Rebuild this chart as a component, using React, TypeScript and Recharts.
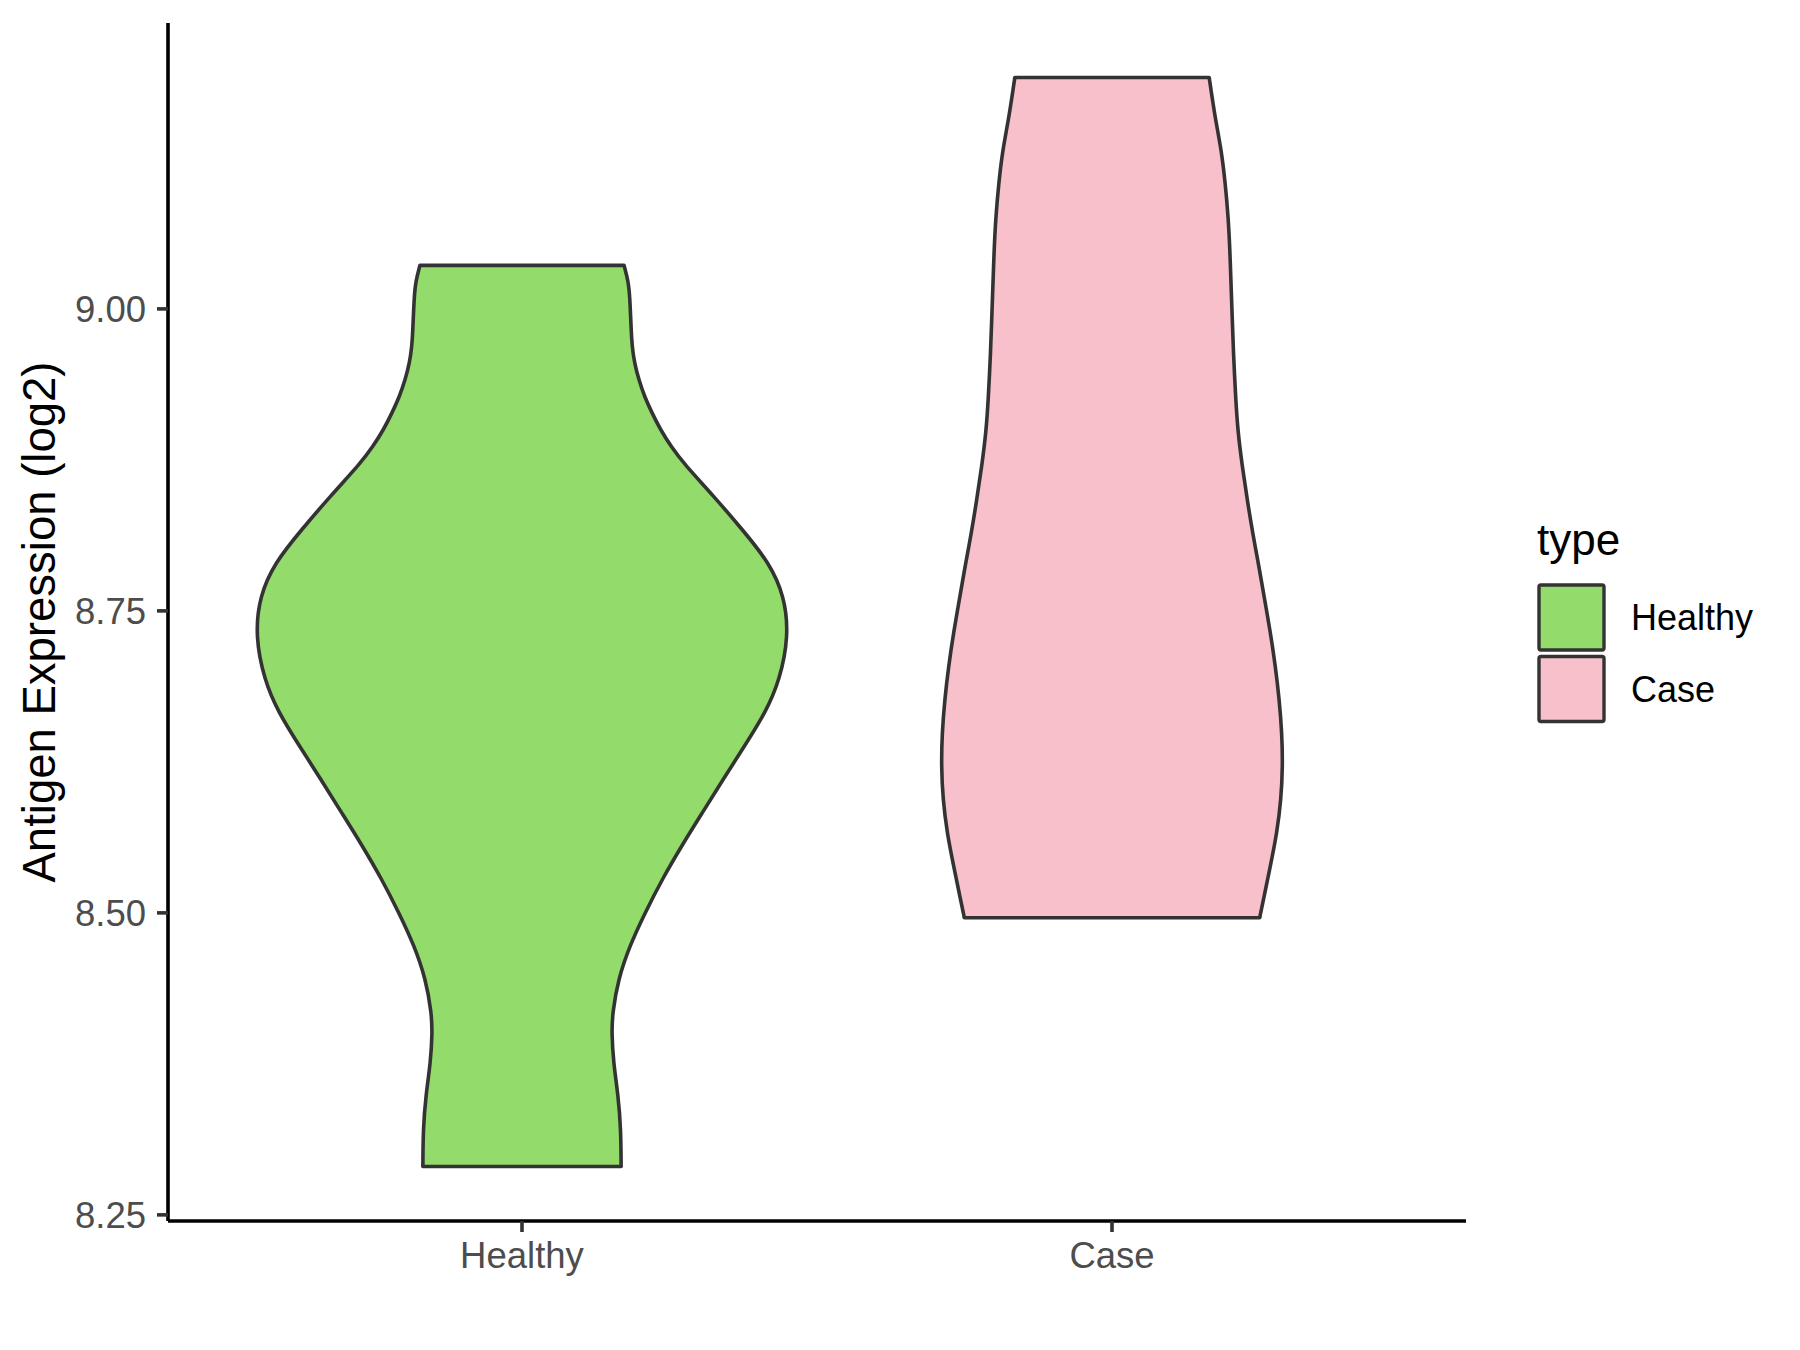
import React from "react";
import { ComposedChart, Area, XAxis, YAxis, ReferenceLine } from "recharts";

const categories = ["Healthy", "Case"];
const fills = ["#93DB6B", "#F7C0CB"];
const outline = "#333333";
const font = "'Liberation Sans', Arial, sans-serif";

// violin outlines: expression value and half-width (x units)
const healthyY = [
  8.29, 8.321, 8.349, 8.376, 8.401, 8.417, 8.445, 8.473, 8.5, 8.528, 8.555, 8.583, 8.611, 8.638,
  8.666, 8.693, 8.729, 8.762, 8.79, 8.817, 8.845, 8.872, 8.886, 8.9, 8.9137, 8.9275, 8.9413, 8.955,
  8.969, 8.983, 9.011, 9.023, 9.036,
];
const healthyHalfWidth = [
  0.168, 0.1676, 0.163, 0.155, 0.152, 0.1534, 0.163, 0.1827, 0.2085, 0.2378, 0.27, 0.3058, 0.3415, 0.377,
  0.413, 0.437, 0.452, 0.445, 0.419, 0.374, 0.325, 0.274, 0.2527, 0.2347, 0.2205, 0.2076, 0.198, 0.1907,
  0.1866, 0.185, 0.1827, 0.18, 0.173,
];
const caseY = [
  8.496, 8.511, 8.539, 8.566, 8.594, 8.6215, 8.649, 8.677, 8.704, 8.732, 8.759, 8.787, 8.8141, 8.8418,
  8.8694, 8.897, 8.9247, 8.966, 8.994, 9.021, 9.049, 9.076, 9.104, 9.1315, 9.159, 9.1916,
];
const caseHalfWidth = [
  0.2503, 0.2568, 0.2685, 0.2795, 0.2866, 0.2893, 0.288, 0.2834, 0.277, 0.2685, 0.2588, 0.249, 0.2385, 0.2293,
  0.2209, 0.2136, 0.2097, 0.2056, 0.2037, 0.2017, 0.1998, 0.197, 0.192, 0.1854, 0.1744, 0.1647,
];

const yTicks = [8.25, 8.5, 8.75, 9.0];

const violins = [
  { key: "healthy", pos: 1, ys: healthyY, hw: healthyHalfWidth },
  { key: "case", pos: 2, ys: caseY, hw: caseHalfWidth },
];

const allY = Array.from(new Set([...healthyY, ...caseY])).sort((a, b) => a - b);
const rows = allY.map((y) => {
  const row: Record<string, any> = { y };
  violins.forEach((v) => {
    const i = v.ys.indexOf(y);
    row[v.key] = i >= 0 ? [v.pos - v.hw[i], v.pos + v.hw[i]] : [null, null];
  });
  return row;
});

// ggplot-style 5% expansion of the data range
const yMin = Math.min(...allY);
const yMax = Math.max(...allY);
const pad = (yMax - yMin) * 0.05;

const YTitle = (props: any) => {
  const vb = props.viewBox || { x: 0, y: 23, width: 168, height: 1198 };
  const cx = vb.x + 39;
  const cy = vb.y + vb.height / 2;
  return (
    <text
      x={cx}
      y={cy}
      dy="0.355em"
      transform={`rotate(-90, ${cx}, ${cy})`}
      textAnchor="middle"
      fill="#000"
      fontSize={45.5}
      fontFamily={font}
    >
      Antigen Expression (log2)
    </text>
  );
};

function LegendBox() {
  return (
    <svg width={260} height={260} style={{ position: "absolute", left: 1530, top: 500 }}>
      <text x={7} y={55} fontSize={44} fontFamily={font} fill="#000">
        type
      </text>
      {categories.map((c, i) => (
        <g key={c}>
          <rect x={9} y={85 + i * 71.5} width={65} height={65} fill={fills[i]} stroke={outline} strokeWidth={3.4} rx={2} />
          <text x={101} y={130 + i * 71.5} fontSize={36} fontFamily={font} fill="#000">
            {c}
          </text>
        </g>
      ))}
    </svg>
  );
}

export default function App() {
  return (
    <div style={{ position: "absolute", left: 0, top: 0, width: 1800, height: 1350, background: "#fff" }}>
      <ComposedChart
        width={1800}
        height={1350}
        data={rows}
        layout="vertical"
        margin={{ top: 23, right: 334, bottom: 29, left: 0 }}
      >
        <XAxis
          type="number"
          domain={[0.4, 2.6]}
          ticks={[1, 2]}
          allowDataOverflow
          tickFormatter={(v) => categories[v - 1]}
          height={100}
          tickSize={11}
          tickMargin={10}
          axisLine={{ stroke: "#000", strokeWidth: 3.6 }}
          tickLine={{ stroke: outline, strokeWidth: 3.6 }}
          tick={{ fill: "#4D4D4D", fontSize: 36.5, fontFamily: font }}
        />
        <YAxis
          type="number"
          dataKey="y"
          reversed
          domain={[yMin - pad, yMax + pad]}
          ticks={yTicks}
          allowDataOverflow
          tickFormatter={(v) => v.toFixed(2)}
          width={168}
          tickSize={11}
          tickMargin={11}
          axisLine={{ stroke: "#000", strokeWidth: 3.6 }}
          tickLine={{ stroke: outline, strokeWidth: 3.6 }}
          tick={{ fill: "#4D4D4D", fontSize: 36.5, fontFamily: font }}
          label={<YTitle />}
        />
        {violins.map((v, i) => (
          <Area
            key={v.key}
            dataKey={v.key}
            type="basis"
            connectNulls
            fill={fills[i]}
            fillOpacity={1}
            stroke={outline}
            strokeWidth={3.6}
            isAnimationActive={false}
          />
        ))}
        {violins.map((v) =>
          [0, v.ys.length - 1].map((j) => (
            <ReferenceLine
              key={`${v.key}-${j}`}
              segment={[
                { x: v.pos - v.hw[j], y: v.ys[j] },
                { x: v.pos + v.hw[j], y: v.ys[j] },
              ]}
              stroke={outline}
              strokeWidth={3.6}
              strokeLinecap="round"
            />
          ))
        )}
      </ComposedChart>
      <LegendBox />
    </div>
  );
}
